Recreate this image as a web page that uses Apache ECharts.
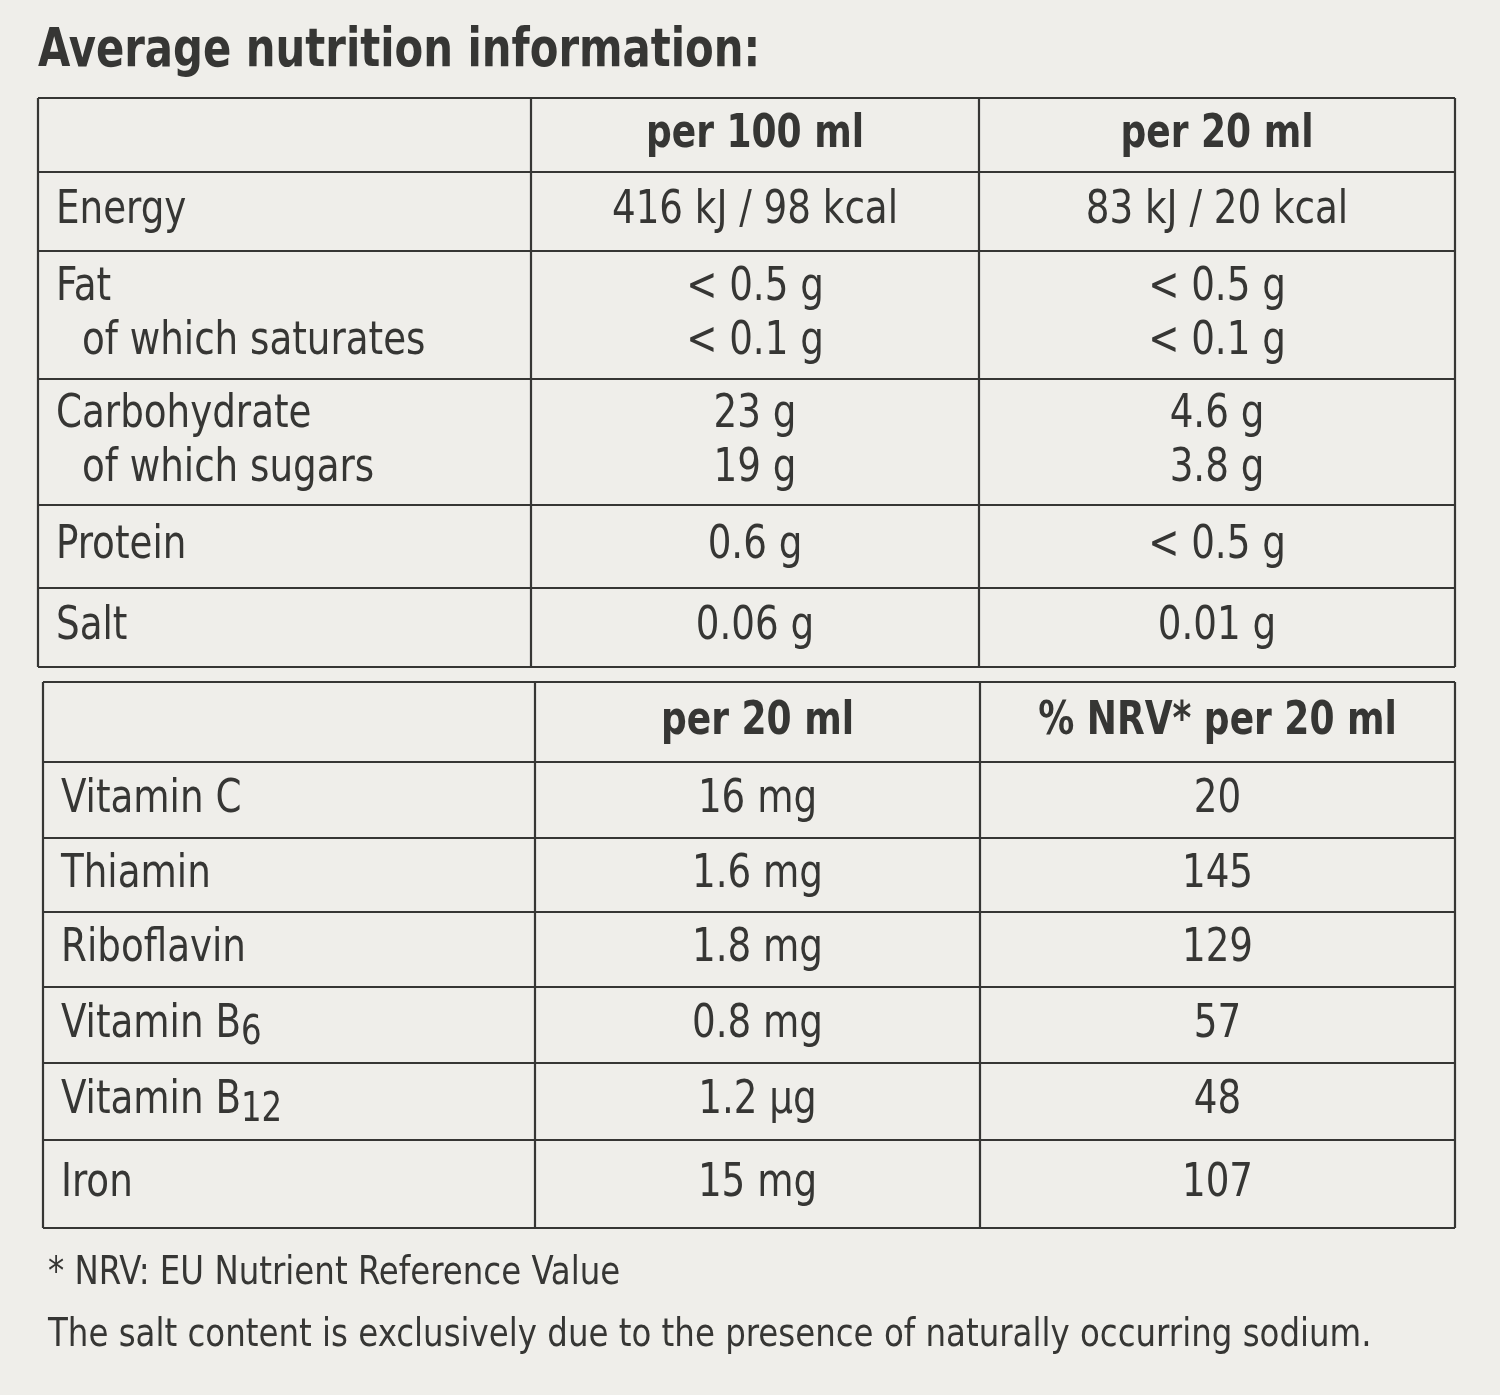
<!DOCTYPE html>
<html>
<head>
<meta charset="utf-8">
<script src="https://cdn.jsdelivr.net/npm/echarts@6/dist/echarts.min.js"></script>
<style>
  html, body { margin: 0; padding: 0; background: #efeeea; }
  #chart { width: 1500px; height: 1395px; }
</style>
</head>
<body>
<div id="chart"></div>
<script>
// table contents
const title = 'Average nutrition information:'
const headers1 = ['', 'per 100 ml', 'per 20 ml']
const nutrients = [['Energy'], ['Fat', 'of which saturates'], ['Carbohydrate', 'of which sugars'], ['Protein'], ['Salt']]
const per100ml = [['416 kJ / 98 kcal'], ['< 0.5 g', '< 0.1 g'], ['23 g', '19 g'], ['0.6 g'], ['0.06 g']]
const per20ml = [['83 kJ / 20 kcal'], ['< 0.5 g', '< 0.1 g'], ['4.6 g', '3.8 g'], ['< 0.5 g'], ['0.01 g']]

const headers2 = ['', 'per 20 ml', '% NRV* per 20 ml']
const vitamins = ['Vitamin C', 'Thiamin', 'Riboflavin', 'Vitamin B{sub|6}', 'Vitamin B{sub|12}', 'Iron']
const vitPer20ml = ['16 mg', '1.6 mg', '1.8 mg', '0.8 mg', '1.2 µg', '15 mg']
const nrvPct = ['20', '145', '129', '57', '48', '107']

const notes = ['* NRV: EU Nutrient Reference Value', 'The salt content is exclusively due to the presence of naturally occurring sodium.']

// layout
const FONT = '"DejaVu Sans Condensed", "Liberation Sans Narrow", sans-serif'
const INK = '#363634'
const cols1 = [38, 531, 979, 1455]
const rows1 = [98, 172, 251, 379, 505, 588, 667]
const cols2 = [43, 535, 980, 1455]
const rows2 = [682, 762, 838, 912, 987, 1063, 1140, 1228]

let myChart = echarts.init(document.getElementById('chart'))
const els = []

// text is squeezed horizontally to get the condensed look of the label font
function txt(x, y, s, opt, sx) {
  els.push({
    type: 'text', x: x, y: y, scaleX: sx || 0.9,
    style: Object.assign({
      text: s, fill: INK, font: '46px ' + FONT,
      align: 'center', verticalAlign: 'middle',
      rich: { sub: { fontSize: 40, fontFamily: FONT, fill: INK, padding: [18, 0, 0, 0] } }
    }, opt || {})
  })
}

function grid(cols, rows) {
  rows.forEach(y => els.push({ type: 'line', shape: { x1: cols[0], y1: y, x2: cols[cols.length - 1], y2: y }, style: { stroke: INK, lineWidth: 2.2 } }))
  cols.forEach(x => els.push({ type: 'line', shape: { x1: x, y1: rows[0], x2: x, y2: rows[rows.length - 1] }, style: { stroke: INK, lineWidth: 2.2 } }))
}

function table(cols, rows, headers, body) {
  grid(cols, rows)
  const hy = (rows[0] + rows[1]) / 2
  headers.forEach((h, c) => { if (h) txt((cols[c] + cols[c + 1]) / 2, hy, h, { font: 'bold 46px ' + FONT }, 0.87) })
  body.forEach((colData, c) => {
    colData.forEach((cell, r) => {
      const lines = Array.isArray(cell) ? cell : [cell]
      const cy = (rows[r + 1] + rows[r + 2]) / 2
      lines.forEach((s, k) => {
        const y = cy + (k - (lines.length - 1) / 2) * 54
        if (c === 0) txt(cols[0] + 18 + (k > 0 ? 26 : 0), y, s, { align: 'left' })
        else txt((cols[c] + cols[c + 1]) / 2, y, s)
      })
    })
  })
}

txt(cols1[0], 52, title, { align: 'left', font: 'bold 54px ' + FONT }, 0.86)
table(cols1, rows1, headers1, [nutrients, per100ml, per20ml])
table(cols2, rows2, headers2, [vitamins, vitPer20ml, nrvPct])
notes.forEach((s, i) => txt(48, 1274 + i * 62, s, { align: 'left', font: '39px ' + FONT }, 0.925))

myChart.setOption({
  backgroundColor: '#efeeea',
  animation: false,
  graphic: { elements: els }
})
</script>
</body>
</html>
